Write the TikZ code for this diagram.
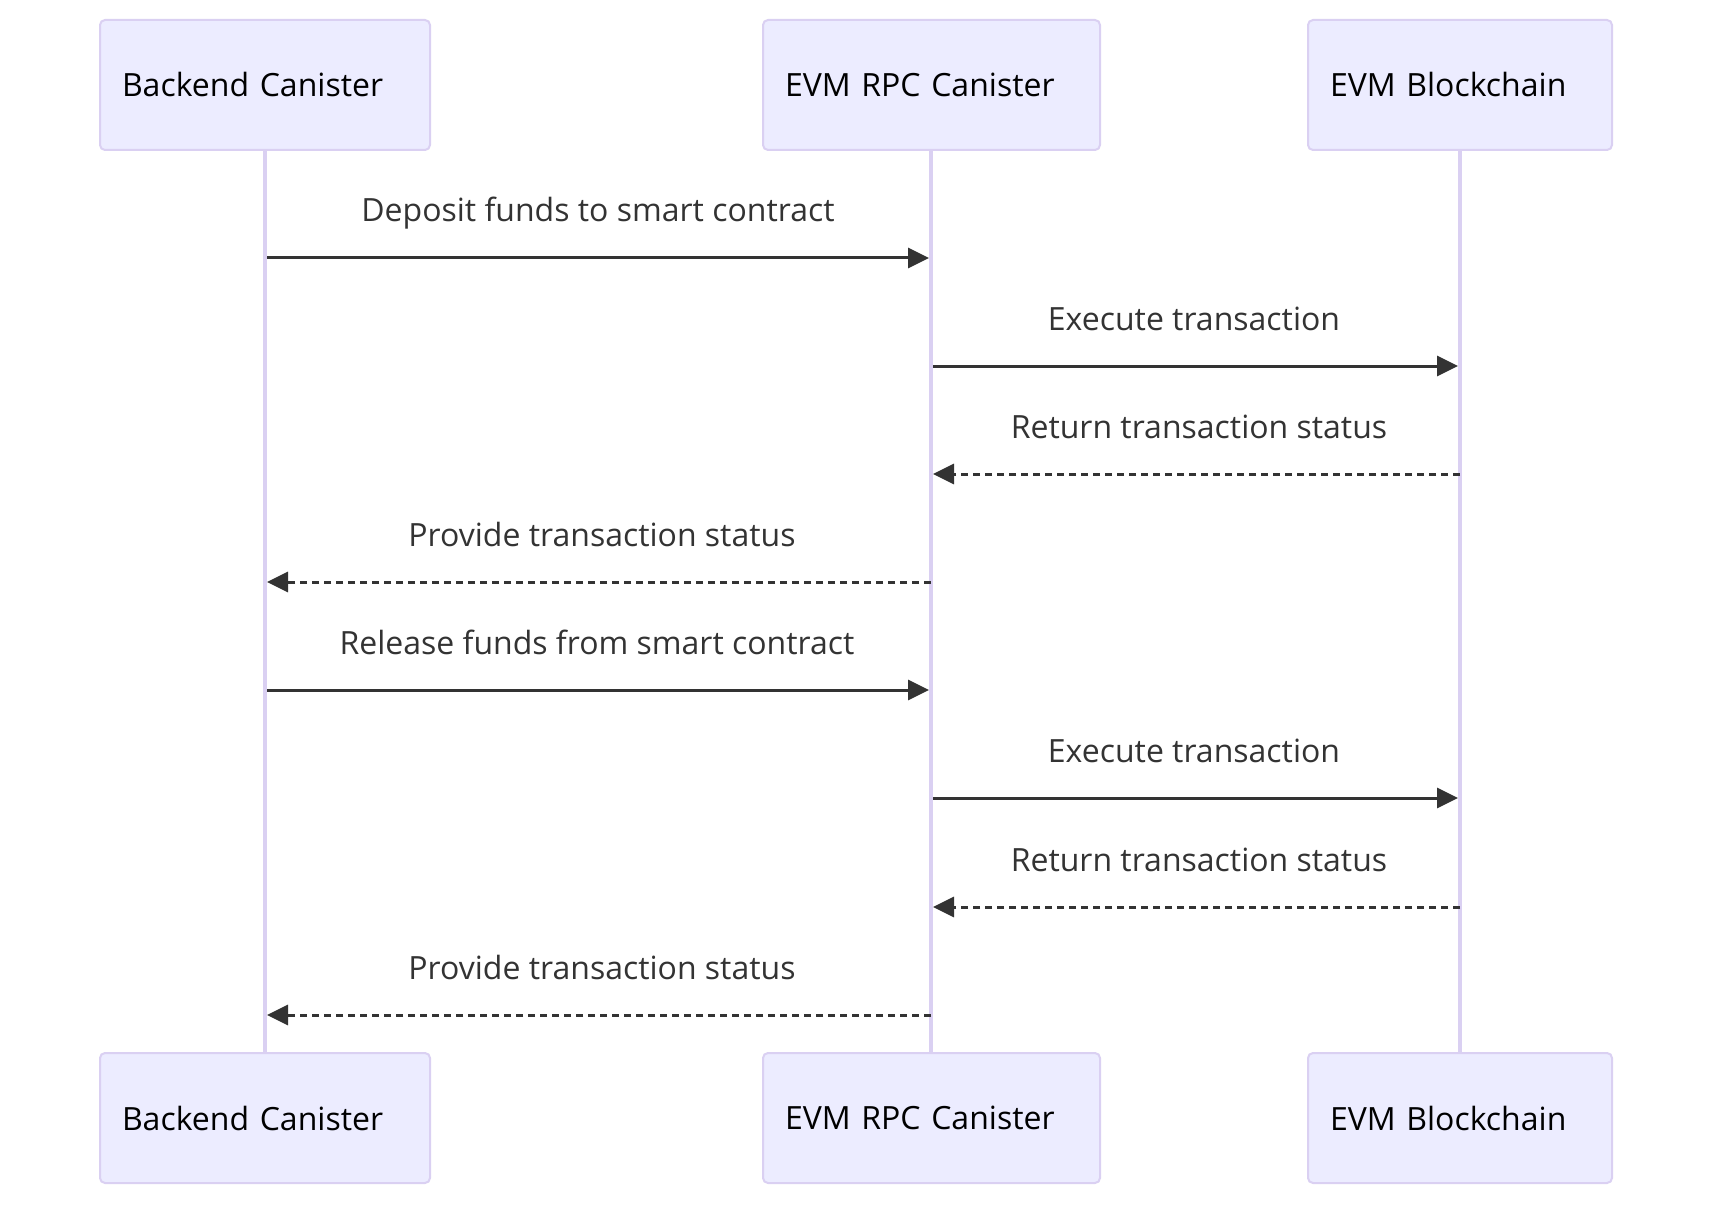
\documentclass[tikz,border=0pt]{standalone}
\usepackage{fontspec}
\setmainfont{Open Sans}
\usetikzlibrary{arrows.meta}
\definecolor{actfill}{HTML}{ECECFF}
\definecolor{actline}{HTML}{DAD0F2}
\definecolor{msgcol}{HTML}{333333}
\begin{document}
\begin{tikzpicture}[x=1pt,y=-1pt,
  actorbox/.style={draw=actline, line width=2pt, fill=actfill, rounded corners=5pt,
    minimum height=130pt, inner xsep=22pt, inner ysep=0pt, align=left,
    font=\fontsize{32}{38}\selectfont, text=black},
  lifeline/.style={draw=actline, line width=3.5pt},
  msgsolid/.style={draw=msgcol, line width=3pt, -{Triangle[length=21pt,width=20pt]}, shorten >=2pt, shorten <=2pt},
  msgdash/.style={draw=msgcol, line width=3pt, dash pattern=on 7pt off 5pt, -{Triangle[length=21pt,width=20pt]}, shorten >=2pt},
  msglabel/.style={anchor=base, text=msgcol, font=\fontsize{32}{38}\selectfont, inner sep=0pt}
]
\useasboundingbox (0,0) rectangle (1712,1206);
\fill[white] (0,0) rectangle (1712,1206);

% lifelines (behind boxes)
\coordinate (l1t) at (265,150); \coordinate (l1b) at (265,1053);
\coordinate (l2t) at (931,150); \coordinate (l2b) at (931,1053);
\coordinate (l3t) at (1460,150); \coordinate (l3b) at (1460,1053);
\draw[lifeline] (l1t) -- (l1b);
\draw[lifeline] (l2t) -- (l2b);
\draw[lifeline] (l3t) -- (l3b);

% actors top
\node[actorbox, text width=286pt] (a1) at (265,85) {Backend Canister};
\node[actorbox, text width=293pt] (a2) at (931.5,85) {EVM RPC Canister};
\node[actorbox, text width=260pt] (a3) at (1460,85) {EVM Blockchain};
% actors bottom
\node[actorbox, text width=286pt] (b1) at (265,1118) {Backend Canister};
\node[actorbox, text width=293pt] (b2) at (931.5,1118) {EVM RPC Canister};
\node[actorbox, text width=260pt] (b3) at (1460,1118) {EVM Blockchain};

% messages
\draw[msgsolid] (l1t |- 0,258) -- (l2t |- 0,258);
\node[msglabel] (m1) at (598,222) {Deposit funds to smart contract};
\draw[msgsolid] (l2t |- 0,366) -- (l3t |- 0,366);
\node[msglabel] (m2) at (1194,330) {Execute transaction};
\draw[msgdash] (l3t |- 0,474) -- (l2t |- 0,474);
\node[msglabel] (m3) at (1199,438) {Return transaction status};
\draw[msgdash] (l2t |- 0,582) -- (l1t |- 0,582);
\node[msglabel] (m4) at (602,546) {Provide transaction status};
\draw[msgsolid] (l1t |- 0,690) -- (l2t |- 0,690);
\node[msglabel] (m5) at (597,654) {Release funds from smart contract};
\draw[msgsolid] (l2t |- 0,798) -- (l3t |- 0,798);
\node[msglabel] (m6) at (1194,762) {Execute transaction};
\draw[msgdash] (l3t |- 0,907) -- (l2t |- 0,907);
\node[msglabel] (m7) at (1199,871) {Return transaction status};
\draw[msgdash] (l2t |- 0,1015) -- (l1t |- 0,1015);
\node[msglabel] (m8) at (602,979) {Provide transaction status};
\end{tikzpicture}
\end{document}
